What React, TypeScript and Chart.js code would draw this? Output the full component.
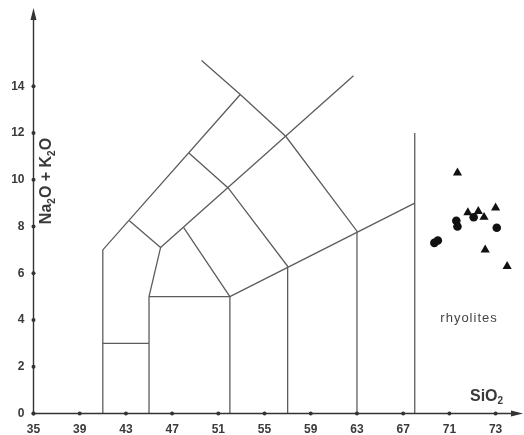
import React, { useEffect, useRef } from "react";
import { Chart, registerables } from "chart.js";

Chart.register(...registerables);

// Axis ticks (positions in SiO2 units) and printed labels
const xTickValues = [35, 39, 43, 47, 51, 55, 59, 63, 67, 71, 75];
const xTickLabels = ["35", "39", "43", "47", "51", "55", "59", "63", "67", "71", "73"];
const yTickValues = [0, 2, 4, 6, 8, 10, 12, 14];

// Sample points
const triX = [71.7, 75.0, 72.6, 73.5, 74.0, 74.1, 76.0];
const triY = [10.3, 8.8, 8.6, 8.65, 8.4, 7.0, 6.3];
const dotX = [73.1, 71.6, 71.7, 75.1, 70.0, 69.7];
const dotY = [8.4, 8.25, 8.0, 7.95, 7.4, 7.3];

// Field boundaries (polylines: [SiO2, alkali])
const bLeft = [[41, 0], [41, 7], [52.9, 13.65]];
const bPicro = [[45, 0], [45, 5], [46, 7.1], [43.3, 8.25]];
const bPicroTop = [[41, 3], [45, 3]];
const bBasalt = [[45, 5], [52, 5], [52, 0]];
const bTephrite = [[52, 5], [48, 7.95]];
const bMiddle = [[46, 7.1], [62.7, 14.45]];
const bCross1 = [[48.45, 11.15], [51.85, 9.65], [57, 6.3], [57, 0]];
const bCross2 = [[49.55, 15.1], [52.9, 13.65], [56.85, 11.85], [63, 7.8], [63, 0]];
const bLower = [[52, 5], [68, 9]];
const bRhyolite = [[68, 0], [68, 12]];

const boundaries = [bLeft, bPicro, bPicroTop, bBasalt, bTephrite, bMiddle, bCross1, bCross2, bLower, bRhyolite];

const X_MIN = 35, X_MAX = 77, Y_MIN = 0, Y_MAX = 17;

const toPts = (xs: number[], ys: number[]) => xs.map((x, i) => ({ x, y: ys[i] }));

function drawSubText(ctx: CanvasRenderingContext2D, parts: [string, boolean][], size: number, x: number, y: number, align: "center" | "left") {
  const big = `bold ${size}px "Liberation Sans", Arial, sans-serif`;
  const small = `bold ${Math.round(size * 0.62)}px "Liberation Sans", Arial, sans-serif`;
  let total = 0;
  for (const [t, sub] of parts) {
    ctx.font = sub ? small : big;
    total += ctx.measureText(t).width;
  }
  let cx = align === "center" ? x - total / 2 : x;
  ctx.textBaseline = "middle";
  ctx.textAlign = "left";
  for (const [t, sub] of parts) {
    ctx.font = sub ? small : big;
    ctx.fillText(t, cx, sub ? y + size * 0.3 : y);
    cx += ctx.measureText(t).width;
  }
}

const overlayPlugin = {
  id: "tasOverlay",
  afterDraw(chart: any) {
    const ctx = chart.ctx as CanvasRenderingContext2D;
    const xs = chart.scales.x;
    const ys = chart.scales.y;
    const x0 = xs.getPixelForValue(X_MIN);
    const y0 = ys.getPixelForValue(0);
    ctx.save();
    ctx.strokeStyle = "#333";
    ctx.fillStyle = "#333";
    ctx.lineWidth = 1.4;
    // y axis
    ctx.beginPath();
    ctx.moveTo(x0, y0);
    ctx.lineTo(x0, 14);
    ctx.stroke();
    ctx.beginPath();
    ctx.moveTo(x0, 8);
    ctx.lineTo(x0 - 3, 20);
    ctx.lineTo(x0 + 3, 20);
    ctx.closePath();
    ctx.fill();
    // x axis
    const xr = 522;
    ctx.beginPath();
    ctx.moveTo(x0, y0);
    ctx.lineTo(xr - 4, y0);
    ctx.stroke();
    ctx.beginPath();
    ctx.moveTo(xr + 1, y0);
    ctx.lineTo(xr - 11, y0 - 3);
    ctx.lineTo(xr - 11, y0 + 3);
    ctx.closePath();
    ctx.fill();
    // tick marks (small dots on the axes)
    for (const v of xTickValues) {
      const px = xs.getPixelForValue(v);
      ctx.beginPath();
      ctx.arc(px, y0, 2, 0, Math.PI * 2);
      ctx.fill();
    }
    for (const v of yTickValues) {
      const py = ys.getPixelForValue(v);
      ctx.beginPath();
      ctx.arc(x0, py, 2, 0, Math.PI * 2);
      ctx.fill();
    }
    // labels
    ctx.fillStyle = "#3a3a3a";
    drawSubText(ctx, [["SiO", false], ["2", true]], 16, 470, ys.getPixelForValue(0.72), "left");
    ctx.save();
    ctx.translate(47, 181);
    ctx.rotate(-Math.PI / 2);
    drawSubText(ctx, [["Na", false], ["2", true], ["O + K", false], ["2", true], ["O", false]], 16, 0, 0, "center");
    ctx.restore();
    ctx.font = '13px "Liberation Sans", Arial, sans-serif';
    (ctx as any).letterSpacing = "1px";
    ctx.textAlign = "center";
    ctx.textBaseline = "middle";
    ctx.fillStyle = "#444";
    ctx.fillText("rhyolites", xs.getPixelForValue(72.7), ys.getPixelForValue(4.05));
    ctx.restore();
  },
};

export default function App() {
  const ref = useRef<HTMLCanvasElement>(null);
  useEffect(() => {
    document.body.style.margin = "0";
    const lineDs = boundaries.map((b) => ({
      type: "line" as const,
      data: b.map(([x, y]) => ({ x, y })),
      borderColor: "#5c5c5c",
      borderWidth: 1.3,
      pointRadius: 0,
      showLine: true,
      fill: false,
      tension: 0,
    }));
    const chart = new Chart(ref.current!, {
      type: "scatter",
      data: {
        datasets: [
          ...lineDs,
          {
            type: "scatter" as const,
            data: toPts(triX, triY),
            pointStyle: "triangle",
            pointRadius: 5.3,
            backgroundColor: "#111",
            borderColor: "#111",
            borderWidth: 0,
          },
          {
            type: "scatter" as const,
            data: toPts(dotX, dotY),
            pointStyle: "circle",
            pointRadius: 4.3,
            backgroundColor: "#111",
            borderColor: "#111",
            borderWidth: 0,
          },
        ] as any,
      },
      options: {
        animation: false,
        responsive: false,
        devicePixelRatio: 1,
        layout: { padding: { top: 14.5, right: 1, left: 0, bottom: 0 } },
        plugins: { legend: { display: false }, tooltip: { enabled: false } },
        scales: {
          x: {
            type: "linear",
            min: X_MIN,
            max: X_MAX,
            afterBuildTicks: (s: any) => { s.ticks = xTickValues.map((v) => ({ value: v })); },
            afterFit: (s: any) => { s.height = 21.5; },
            grid: { display: false, drawTicks: false },
            border: { display: false },
            ticks: {
              padding: 9,
              maxRotation: 0,
              autoSkip: false,
              color: "#3a3a3a",
              font: { family: '"Liberation Sans", Arial, sans-serif', size: 12, weight: "bold" },
              callback: (v: any) => {
                const i = xTickValues.indexOf(Number(v));
                return i >= 0 ? xTickLabels[i] : "";
              },
            },
          },
          y: {
            type: "linear",
            min: Y_MIN,
            max: Y_MAX,
            afterBuildTicks: (s: any) => { s.ticks = yTickValues.map((v) => ({ value: v })); },
            afterFit: (s: any) => { s.width = 33.5; },
            grid: { display: false, drawTicks: false },
            border: { display: false },
            ticks: {
              padding: 9,
              autoSkip: false,
              color: "#3a3a3a",
              font: { family: '"Liberation Sans", Arial, sans-serif', size: 12, weight: "bold" },
              callback: (v: any) => String(v),
            },
          },
        },
      },
      plugins: [overlayPlugin],
    });
    return () => chart.destroy();
  }, []);
  return (
    <div style={{ position: "absolute", left: 0, top: 0, width: 524, height: 435, background: "#fff" }}>
      <canvas ref={ref} width={524} height={435} />
    </div>
  );
}
